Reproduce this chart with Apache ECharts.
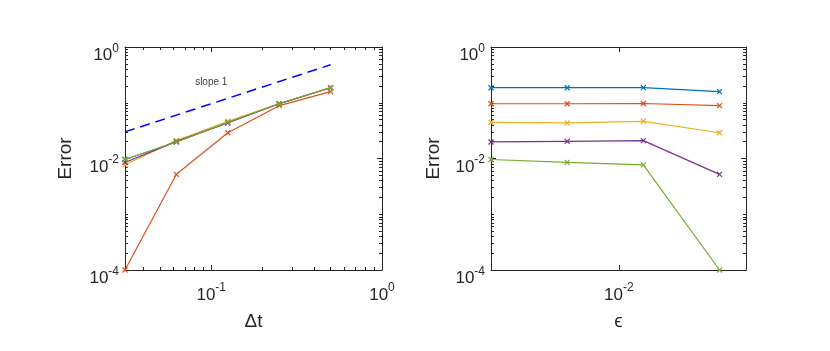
<!DOCTYPE html>
<html>
<head>
<meta charset="utf-8">
<script src="https://cdn.jsdelivr.net/npm/echarts@6/dist/echarts.min.js"></script>
<style>
  html, body { margin: 0; padding: 0; background: #fff; }
  #chart { width: 830px; height: 351px; }
</style>
</head>
<body>
<div id="chart"></div>
<script>
// x values of the two panels
const dt = [1/32, 1/16, 1/8, 1/4, 1/2];
const eps = [1/320, 1/160, 1/80, 1/40];

// error for each time step, one value per epsilon
const errDt2 = [0.186, 0.186, 0.187, 0.158];
const errDt4 = [0.096, 0.096, 0.097, 0.0886];
const errDt8 = [0.0446, 0.0434, 0.0465, 0.029];
const errDt16 = [0.0198, 0.0203, 0.0209, 0.0052];
const errDt32 = [0.0096, 0.0085, 0.0077, 0.0001];

// reference slope line and its label
const slopeX = [1/32, 1/2];
const slopeY = [0.03, 0.48];
const slopeLabelAt = [0.1, 0.235];

// tick labels
const leftXTicks = [0.1, 1];
const rightXTicks = [0.01];
const yTicks = [1e-4, 1e-2, 1];

const colors = ['#0072BD', '#D95319', '#EDB120', '#7E2F8E', '#77AC30'];
const font = 'Liberation Sans, Arial, Helvetica, sans-serif';
const axisColor = '#262626';
const xMark = 'path://M0,0L10,10M10,0L0,10';

const chart = echarts.init(document.getElementById('chart'));

const minorTicks = (lo, hi) => {
  const out = [];
  for (let k = Math.floor(Math.log10(lo)); k <= Math.ceil(Math.log10(hi)); k++) {
    for (let m = 1; m <= 9; m++) {
      const v = m * Math.pow(10, k);
      if (v >= lo * 0.999 && v <= hi * 1.001) out.push(v);
    }
  }
  return out;
};

const decadeLabel = v => '{b|10}{e|' + Math.round(Math.log10(v)) + '}';

const labelRich = {
  b: { fontSize: 17, fontFamily: font, color: axisColor },
  e: { fontSize: 12, fontFamily: font, color: axisColor, padding: [0, 0, 14, 0] }
};

// one panel side: main axis with labels, a minor tick axis and the mirrored box side
const buildAxes = (grid, near, far, min, max, major, minor, name, nameGap, isY) => {
  const base = { type: 'log', gridIndex: grid, min: min, max: max, splitLine: { show: false } };
  const line = { show: true, onZero: false, lineStyle: { color: axisColor, width: 1 } };
  const tick = (vals, len, show) => ({
    show: show && vals.length > 0, inside: true, length: len, customValues: vals,
    lineStyle: { color: axisColor, width: 1 }
  });
  return [
    Object.assign({}, base, {
      position: near,
      name: name, nameLocation: 'middle', nameGap: nameGap,
      nameTextStyle: { fontSize: 19, fontFamily: font, color: axisColor },
      axisLine: line,
      axisTick: tick(major, 5, true),
      axisLabel: {
        customValues: major, formatter: decadeLabel, rich: labelRich,
        margin: isY ? 6 : 12,
        padding: isY ? [17, 0, 0, 0] : 0
      }
    }),
    Object.assign({}, base, {
      position: near, axisLine: { show: false },
      axisTick: tick(minor, 3, true), axisLabel: { show: false }
    }),
    Object.assign({}, base, {
      position: far, axisLine: line,
      axisTick: tick(major, 5, true), axisLabel: { show: false }
    }),
    Object.assign({}, base, {
      position: far, axisLine: { show: false },
      axisTick: tick(minor, 3, true), axisLabel: { show: false }
    })
  ];
};

const leftXMin = 1/32, leftXMax = 1;
const rightXMin = 1/320, rightXMax = 0.0318;
const yMin = 1e-4, yMax = 1;

const xAxes = [].concat(
  buildAxes(0, 'bottom', 'top', leftXMin, leftXMax, leftXTicks, minorTicks(leftXMin, leftXMax), 'Δt', 42, false),
  buildAxes(1, 'bottom', 'top', rightXMin, rightXMax, rightXTicks, [], 'ϵ', 42, false)
);
const yAxes = [].concat(
  buildAxes(0, 'left', 'right', yMin, yMax, yTicks, minorTicks(yMin, yMax), 'Error', 50, true),
  buildAxes(1, 'left', 'right', yMin, yMax, yTicks, minorTicks(yMin, yMax), 'Error', 48, true)
);

const dtRows = [errDt32, errDt16, errDt8, errDt4, errDt2];
const epsRows = [errDt2, errDt4, errDt8, errDt16, errDt32];

const lineSeries = (axisIdx, xs, ys, color, z) => ({
  type: 'line',
  xAxisIndex: axisIdx, yAxisIndex: axisIdx,
  data: xs.map((x, i) => [x, ys[i]]),
  symbol: xMark, symbolSize: 5,
  lineStyle: { color: color, width: 1.2 },
  itemStyle: { color: color, borderColor: color, borderWidth: 1.2 },
  z: z,
  animation: false
});

const series = [];
// left panel: error against dt, one line per epsilon (column)
const leftCols = [0, 3, 2, 1, 0];
leftCols.forEach((col, i) => {
  series.push(lineSeries(0, dt, dtRows.map(r => r[col]), colors[i], 2 + i));
});
series.push({
  type: 'line', xAxisIndex: 0, yAxisIndex: 0,
  data: slopeX.map((x, i) => [x, slopeY[i]]),
  symbol: 'none',
  lineStyle: { color: '#0000FF', width: 1.5, type: [10, 6] },
  animation: false
});
series.push({
  type: 'scatter', xAxisIndex: 0, yAxisIndex: 0,
  data: [slopeLabelAt], symbolSize: 0,
  label: { show: true, position: 'inside', formatter: 'slope 1', fontSize: 10, fontFamily: font, color: '#000' },
  animation: false
});
// right panel: error against epsilon, one line per dt (row)
epsRows.forEach((row, i) => {
  series.push(lineSeries(4, eps, row, colors[i], 2 + i));
});

chart.setOption({
  backgroundColor: '#fff',
  animation: false,
  grid: [
    { left: 125, top: 47, width: 257, height: 223, outerBoundsMode: 'none' },
    { left: 491, top: 47, width: 255, height: 223, outerBoundsMode: 'none' }
  ],
  xAxis: xAxes,
  yAxis: yAxes,
  series: series
});

window.addEventListener('resize', () => chart.resize());
</script>
</body>
</html>
